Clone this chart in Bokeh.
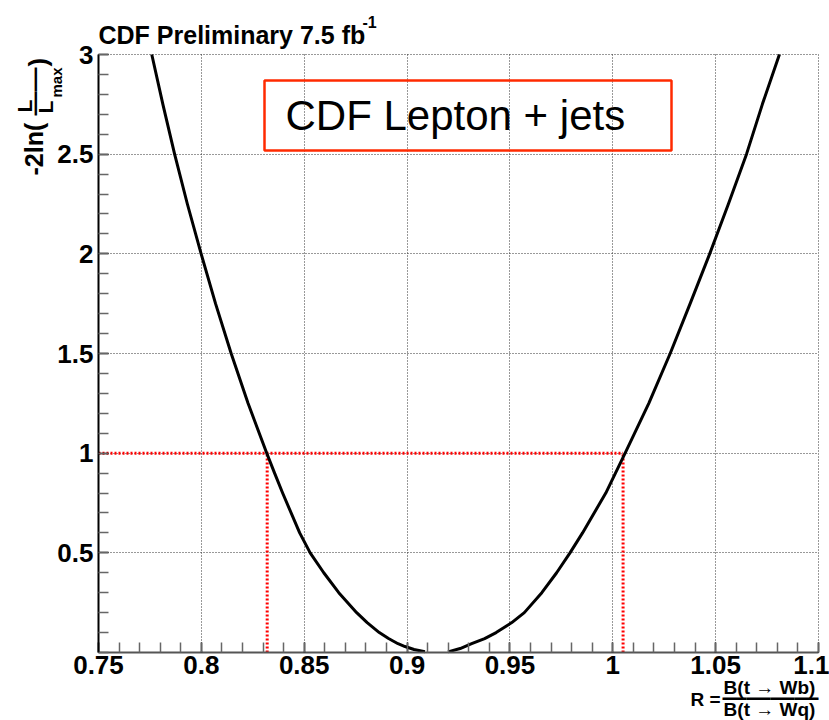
import numpy as np
from bokeh.plotting import figure
from bokeh.models import Label, BoxAnnotation, FixedTicker, Range1d, NumeralTickFormatter, Grid
from bokeh.embed import file_html
from bokeh.resources import INLINE

# ---- data ----
left_r = [0.7759, 0.7813, 0.7870, 0.7932, 0.7999, 0.8069, 0.8145, 0.8227, 0.8318, 0.8356,
          0.8395, 0.8478, 0.8529, 0.8595, 0.8668, 0.8755, 0.8806, 0.8865, 0.8910, 0.8956,
          0.8990, 0.9034, 0.9087]
left_nll = [3.0, 2.75, 2.5, 2.25, 2.0, 1.75, 1.5, 1.25, 1.0, 0.9,
            0.8, 0.6, 0.5, 0.4, 0.3, 0.2, 0.15, 0.1, 0.07, 0.044,
            0.03, 0.015, 0.004]
right_r = [0.9199, 0.9258, 0.9314, 0.9377, 0.9433, 0.9509, 0.9570, 0.9655, 0.9727, 0.9792,
           0.9853, 0.9966, 1.0013, 1.0060, 1.0175, 1.0279, 1.0376, 1.0471, 1.0562, 1.0650,
           1.0727, 1.0810]
right_nll = [0.003, 0.02, 0.044, 0.07, 0.1, 0.15, 0.2, 0.3, 0.4, 0.5,
             0.6, 0.8, 0.9, 1.0, 1.25, 1.5, 1.75, 2.0, 2.25, 2.5,
             2.75, 3.0]
interval = [0.832, 1.005]     # where -2ln(L/Lmax) = 1
delta_level = 1.0
x_ticks = [0.75, 0.8, 0.85, 0.9, 0.95, 1.0, 1.05, 1.1]
y_ticks = [0.5, 1.0, 1.5, 2.0, 2.5, 3.0]

X0, X1, Y0, Y1 = 0.75, 1.1, 0.0, 3.0
W, H = 829, 720
BL, BR, BT, BB = 98, 11, 54, 68          # where the plotting box sits in the page
fw, fh = W - BL - BR, H - BT - BB
ux = (X1 - X0) / fw
uy = (Y1 - Y0) / fh

def px2x(px):
    return X0 + (px - BL) * ux

def py2y(py):
    return Y0 + (H - BB - py) * uy

# frame covers the whole page; axes are pinned at the plotting box edges
p = figure(width=W, height=H,
           x_range=Range1d(px2x(0), px2x(W)), y_range=Range1d(py2y(H), py2y(0)),
           output_backend="svg", toolbar_location=None,
           min_border_left=0, min_border_right=0, min_border_top=0, min_border_bottom=0)
p.title.visible = False
p.outline_line_color = None
p.background_fill_color = "white"
p.border_fill_color = "white"

p.xaxis.fixed_location = Y0
p.yaxis.fixed_location = X0
p.xaxis.bounds = (X0, X1)
p.yaxis.bounds = (Y0, Y1)
p.xaxis.ticker = FixedTicker(ticks=x_ticks, minor_ticks=list(np.round(np.arange(0.75, 1.1001, 0.01), 3)))
p.yaxis.ticker = FixedTicker(ticks=y_ticks, minor_ticks=list(np.round(np.arange(0.0, 3.0001, 0.1), 2)))
p.xaxis.formatter = NumeralTickFormatter(format="0.[00]")
p.yaxis.formatter = NumeralTickFormatter(format="0.[0]")

for ax in (p.xaxis, p.yaxis):
    ax.major_label_text_font = "Liberation Sans"
    ax.major_label_text_font_style = "bold"
    ax.major_label_text_font_size = "26px"
    ax.major_label_text_color = "black"
    ax.major_tick_in = 10
    ax.major_tick_out = 0
    ax.minor_tick_in = 10
    ax.minor_tick_out = 0
    ax.major_tick_line_color = "black"
    ax.major_tick_line_width = 1.5
    ax.minor_tick_line_color = "#666666"
    ax.minor_tick_line_width = 1.5
p.xaxis.axis_line_color = "#555555"
p.xaxis.axis_line_width = 2
p.yaxis.axis_line_color = "black"
p.yaxis.axis_line_width = 2
p.xaxis.major_label_standoff = 3
p.yaxis.major_label_standoff = 5

grid_kw = dict(grid_line_color="#333333", grid_line_dash="1 2", grid_line_width=1)
if "cross_bounds" in Grid.properties():
    p.xgrid.cross_bounds = (Y0, Y1)
    p.ygrid.cross_bounds = (X0, X1)
    for g in p.grid:
        g.update(**grid_kw)
else:
    p.grid.visible = False
    p.segment(x0=x_ticks, y0=[Y0] * len(x_ticks), x1=x_ticks, y1=[Y1] * len(x_ticks),
              line_color="#333333", line_dash="1 2", line_width=1, level="underlay")
    p.segment(x0=[X0] * len(y_ticks), y0=y_ticks, x1=[X1] * len(y_ticks), y1=y_ticks,
              line_color="#333333", line_dash="1 2", line_width=1, level="underlay")

# red dotted lines
red = "#ff0000"
p.segment(x0=[X0], y0=[delta_level], x1=[interval[1]], y1=[delta_level],
          line_color=red, line_width=3, line_dash="2 2")
p.segment(x0=interval, y0=[Y0, Y0], x1=interval, y1=[delta_level, delta_level],
          line_color=red, line_width=3, line_dash="2 2")

# curve
p.line(left_r, left_nll, line_color="black", line_width=3, line_join="round")
p.line(right_r, right_nll, line_color="black", line_width=3, line_join="round")

# legend-like box
p.add_layout(BoxAnnotation(left=px2x(264), right=px2x(671), top=py2y(80), bottom=py2y(150),
                           fill_alpha=0, line_color="#ff2a00", line_alpha=1.0, line_width=2.5))

K = 0.38   # measured offset of the rendered baseline, in units of the font size

def lab(text, px, py, size, angle=0.0, align="left", style="bold"):
    # (px, py): wanted baseline position in page pixels
    if angle == 0.0:
        py = py - K * size
    else:
        px = px - K * size
    p.add_layout(Label(x=px2x(px), y=py2y(py), text=text, angle=angle,
                       text_font="Liberation Sans", text_font_style=style,
                       text_font_size=f"{size}px", text_color="black",
                       text_align=align, text_baseline="alphabetic"))

lab("CDF Lepton + jets", 285, 131, 42, style="normal")

# title
lab("CDF Preliminary 7.5 fb", 98, 44, 25)
lab("-1", 362, 28, 16)

# y-axis label: -2ln( L / L_max )
r90 = np.pi / 2
lab("-2ln(", 43, 175, 25, angle=r90)
lab("L", 32, 112, 21, angle=r90)
lab("\u2014\u2014", 42, 115, 24, angle=r90)
lab("L", 53, 113, 21, angle=r90)
lab("max", 62, 97, 15, angle=r90)
lab(")", 47, 66, 26, angle=r90)

# x-axis label: R = B(t -> Wb) / B(t -> Wq)
lab("R =", 690, 706, 19)
lab("B(t \u2192 Wb)", 769, 694, 19, align="center")
lab("\u2014\u2014\u2014\u2014", 770, 705, 24, align="center")
lab("B(t \u2192 Wq)", 769, 716, 19, align="center")

open("out.html", "w").write(file_html(p, INLINE))
